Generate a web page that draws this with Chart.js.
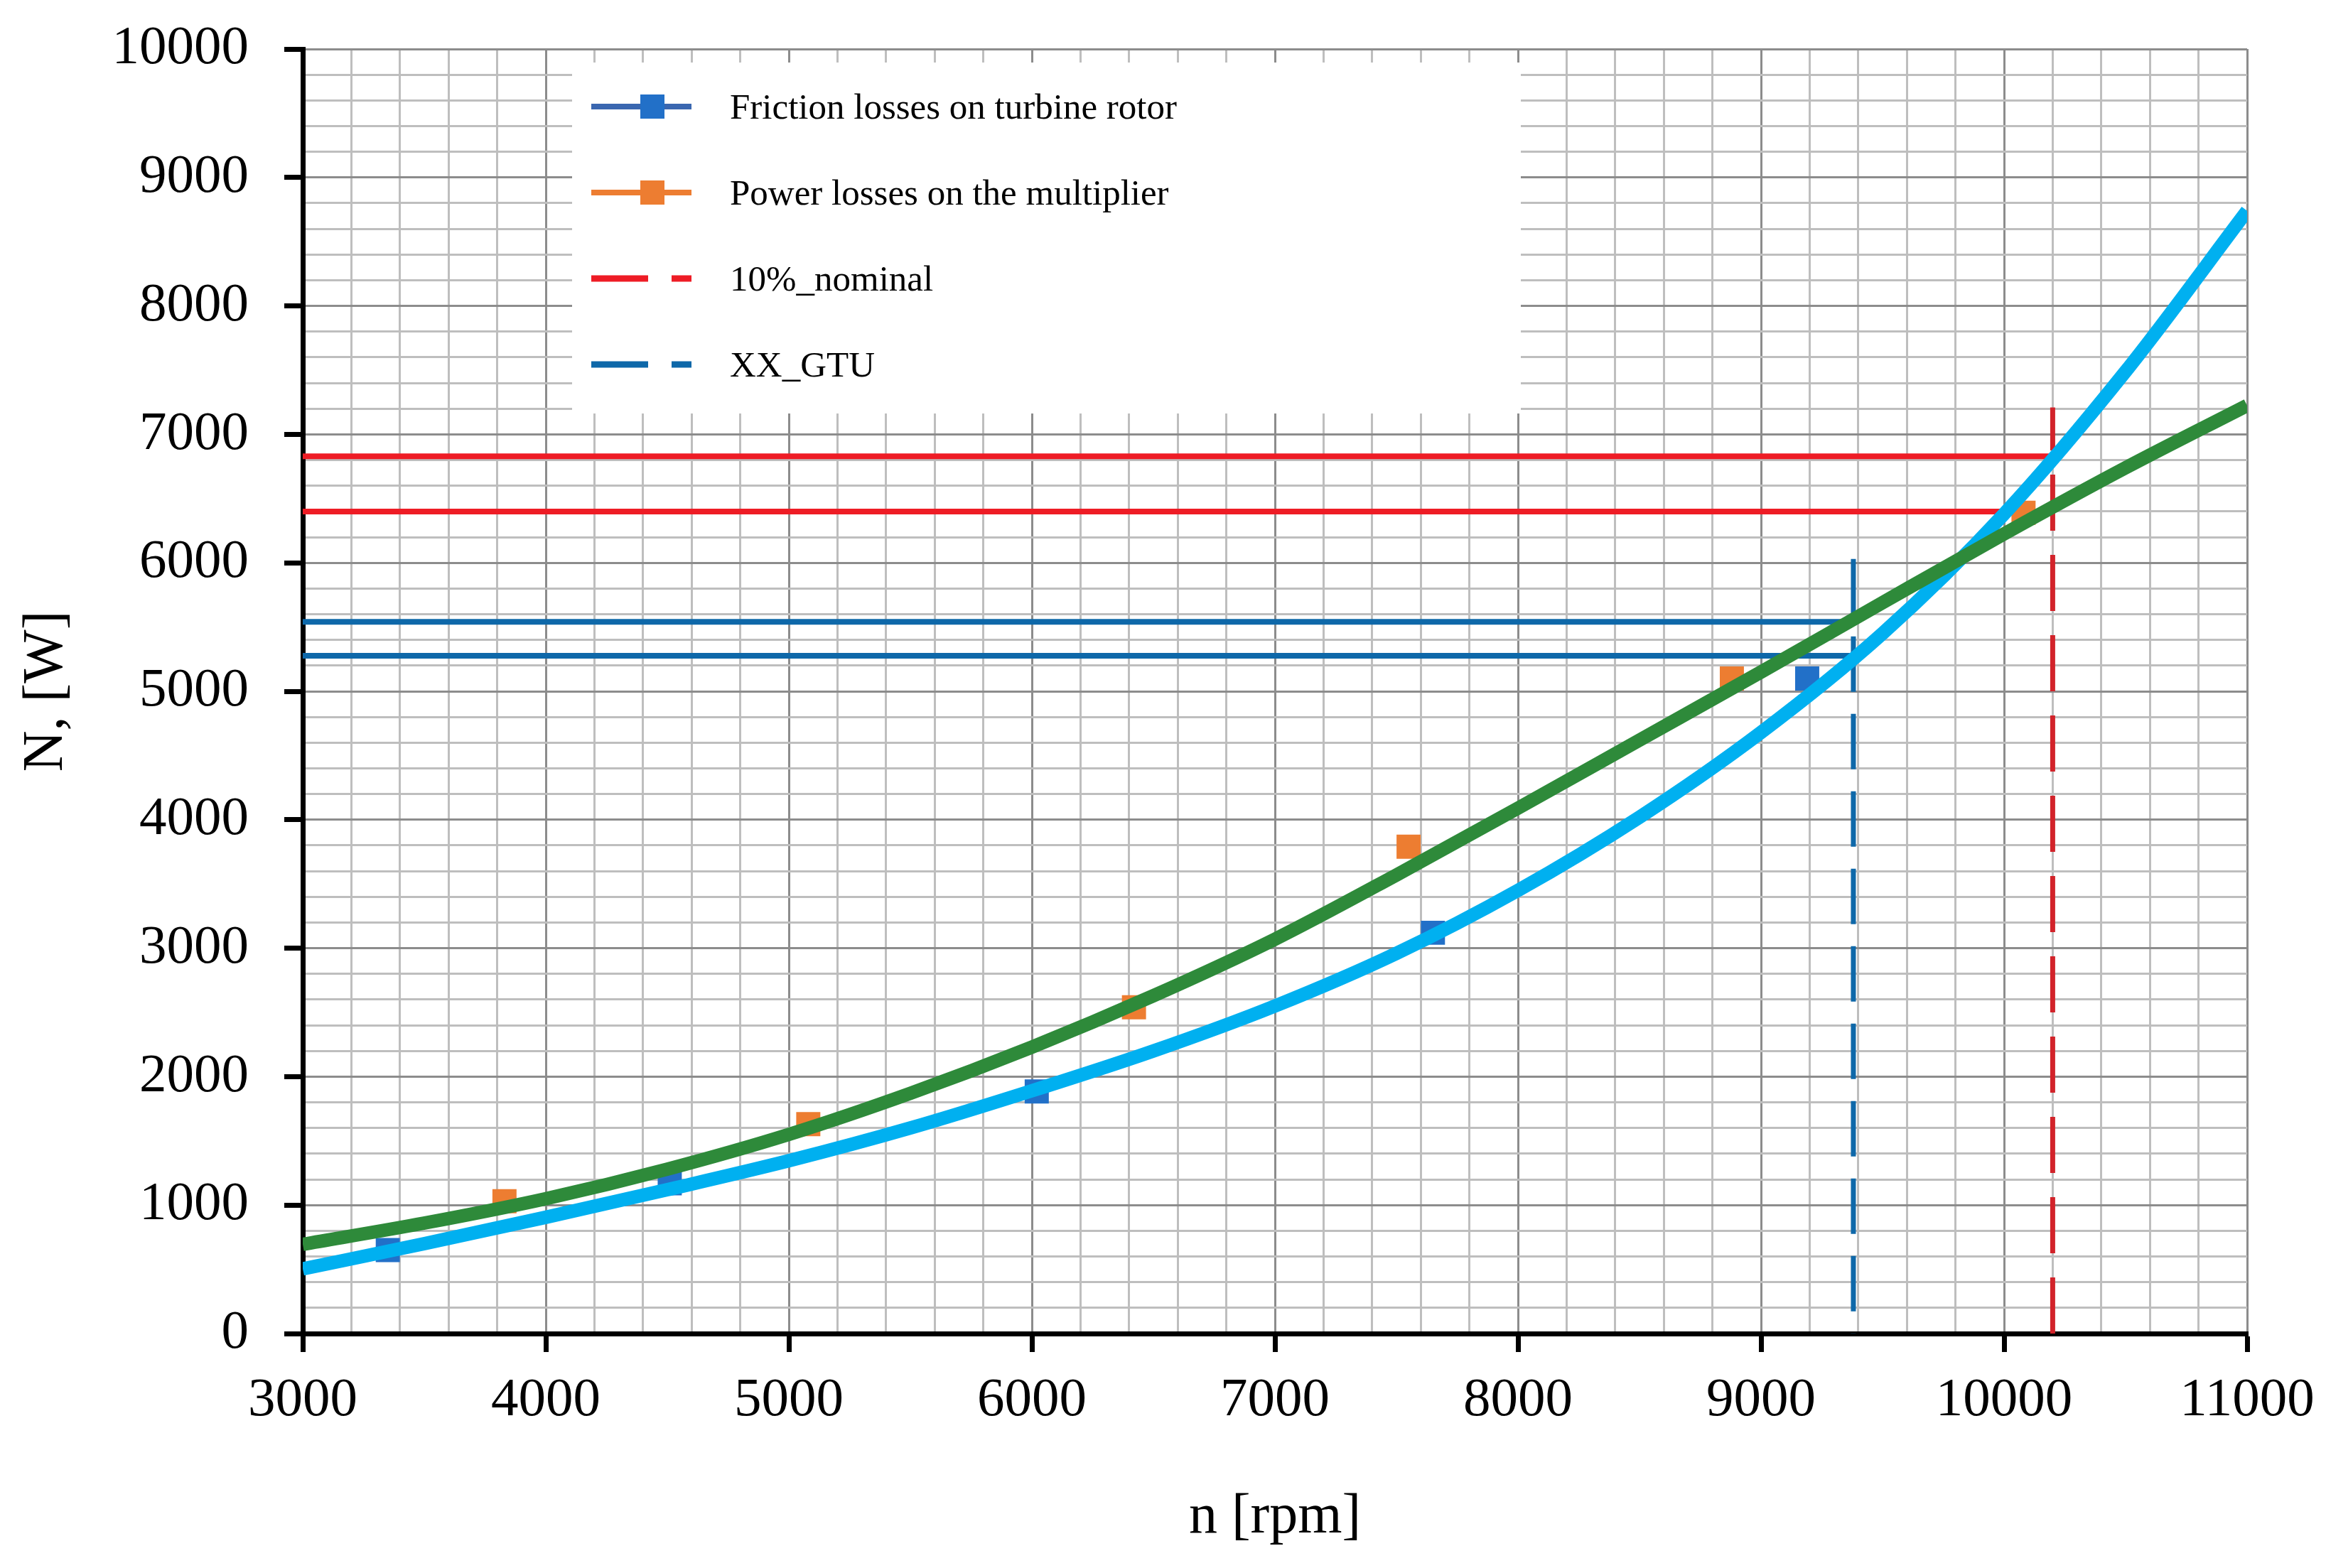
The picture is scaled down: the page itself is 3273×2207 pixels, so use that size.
<!DOCTYPE html>
<html>
<head>
<meta charset="utf-8">
<script src="https://cdn.jsdelivr.net/npm/chart.js@4.4.1/dist/chart.umd.min.js"></script>
<style>
html,body{margin:0;padding:0;background:#ffffff;}
#wrap{width:3273px;height:2207px;position:relative;}
</style>
</head>
<body>
<div id="wrap"><canvas id="c" width="3273" height="2207"></canvas></div>
<script>
// ---- data ----
const trendRpm = [3000, 3500, 4000, 4500, 5000, 5500, 6000, 6500, 7000, 7500, 8000, 8500, 9000, 9500, 10000, 10500, 11000];
const frictionTrendN = [503, 700, 905, 1120, 1345, 1600, 1890, 2200, 2550, 2960, 3450, 4020, 4680, 5450, 6380, 7490, 8740];
const multiplierTrendN = [695, 860, 1050, 1280, 1550, 1870, 2230, 2630, 3070, 3570, 4090, 4620, 5150, 5690, 6225, 6740, 7225];

const frictionRpm = [3350, 4510, 6020, 7650, 9190];
const frictionN = [650, 1170, 1885, 3120, 5100];
const multiplierRpm = [3830, 5080, 6420, 7550, 8880, 10080];
const multiplierN = [1030, 1630, 2540, 3790, 5100, 6390];

const startRpm = 3000;
const nominalRpm = 10200;
const nominalLevels = [6830, 6400];
const nominalTop = 7210;
const gtuRpm = 9380;
const gtuLevels = [5541, 5276];
const gtuTop = 6030;

const legendLabels = ['Friction losses on turbine rotor', 'Power losses on the multiplier', '10%_nominal', 'XX_GTU'];
const xTitle = 'n [rpm]';
const yTitle = 'N, [W]';

// ---- helpers ----
const pts = (xs, ys) => xs.map((x, i) => ({x: x, y: ys[i]}));
const RED = '#EE1C25', RED_DASH = '#D2232A', BLUE_REF = '#0E68A9';
const CYAN = '#00B0F0', GREEN = '#2E8A3A';
const FR_LINE = '#3A67B0', FR_MARK = '#2270C8', OR = '#ED7D31';
const SERIF = '"Liberation Serif", "DejaVu Serif", serif';

const datasets = [];
// trend lines (on top)
datasets.push({label: 'multTrend', data: pts(trendRpm, multiplierTrendN), borderColor: GREEN, borderWidth: 19,
  pointRadius: 0, cubicInterpolationMode: 'monotone', order: 0});
datasets.push({label: 'fricTrend', data: pts(trendRpm, frictionTrendN), borderColor: CYAN, borderWidth: 19,
  pointRadius: 0, cubicInterpolationMode: 'monotone', order: 1});
// measured series (their lines are hidden under the trend lines in the picture)
datasets.push({label: legendLabels[0], data: pts(frictionRpm, frictionN), borderColor: FR_LINE, borderWidth: 6,
  showLine: false, pointStyle: 'rect', pointRadius: 24, pointBackgroundColor: FR_MARK, pointBorderWidth: 0, order: 2});
datasets.push({label: legendLabels[1], data: pts(multiplierRpm, multiplierN), borderColor: OR, borderWidth: 6,
  showLine: false, pointStyle: 'rect', pointRadius: 24, pointBackgroundColor: OR, pointBorderWidth: 0, order: 3});
// reference lines
nominalLevels.forEach(v => datasets.push({label: legendLabels[2], data: [{x: startRpm, y: v}, {x: nominalRpm, y: v}],
  borderColor: RED, borderWidth: 8, pointRadius: 0, order: 4}));
gtuLevels.forEach(v => datasets.push({label: legendLabels[3], data: [{x: startRpm, y: v}, {x: gtuRpm, y: v}],
  borderColor: BLUE_REF, borderWidth: 8, pointRadius: 0, order: 4}));
datasets.push({label: legendLabels[2], data: [{x: nominalRpm, y: 0}, {x: nominalRpm, y: nominalTop}],
  borderColor: RED_DASH, borderWidth: 7, borderDash: [79, 34], pointRadius: 0, order: 5});
datasets.push({label: legendLabels[3], data: [{x: gtuRpm, y: gtuTop}, {x: gtuRpm, y: 0}],
  borderColor: BLUE_REF, borderWidth: 7, borderDash: [78, 31], pointRadius: 0, order: 5});

const legendItems = [
  {text: legendLabels[0], color: FR_LINE, marker: FR_MARK, width: 8},
  {text: legendLabels[1], color: OR, marker: OR, width: 8},
  {text: legendLabels[2], color: RED, dash: [80, 33], width: 9},
  {text: legendLabels[3], color: BLUE_REF, dash: [80, 33], width: 9}
];

const boxLegend = {
  id: 'boxLegend',
  beforeDatasetsDraw(chart) {
    const ctx = chart.ctx, a = chart.chartArea;
    ctx.save();
    ctx.fillStyle = '#ffffff';
    ctx.fillRect(a.left + 379, a.top + 19, 1335, 494);
    legendItems.forEach((it, i) => {
      const y = a.top + 81 + i * 121;
      ctx.strokeStyle = it.color;
      ctx.lineWidth = it.width;
      ctx.setLineDash(it.dash || []);
      ctx.lineCap = 'butt';
      ctx.beginPath();
      ctx.moveTo(a.left + 406, y);
      ctx.lineTo(a.left + 547, y);
      ctx.stroke();
      ctx.setLineDash([]);
      if (it.marker) {
        ctx.fillStyle = it.marker;
        ctx.fillRect(a.left + 475, y - 17, 34, 34);
      }
      ctx.fillStyle = '#000000';
      ctx.font = '51px ' + SERIF;
      ctx.textAlign = 'left';
      ctx.textBaseline = 'middle';
      ctx.fillText(it.text, a.left + 601, y + 4);
    });
    ctx.restore();
  }
};

const isMajor = c => c.tick && Math.round(c.tick.value) % 1000 === 0;
const gridCfg = {
  color: c => isMajor(c) ? '#8C8C8C' : '#BEBEBE',
  lineWidth: 3,
  drawTicks: true,
  tickLength: 26,
  tickColor: c => isMajor(c) ? '#000000' : 'rgba(0,0,0,0)',
  tickWidth: 7
};
const tickCb = v => (Math.round(v) % 1000 === 0 ? String(Math.round(v)) : '');
const noPad = s => { s.paddingTop = 0; s.paddingBottom = 0; s.paddingLeft = 0; s.paddingRight = 0; };

new Chart(document.getElementById('c'), {
  type: 'line',
  data: {datasets: datasets},
  plugins: [boxLegend],
  options: {
    responsive: false,
    devicePixelRatio: 1,
    animation: false,
    layout: {padding: {left: 0, right: 111, top: 69, bottom: 0}},
    plugins: {legend: {display: false}, tooltip: {enabled: false}},
    elements: {line: {tension: 0, borderCapStyle: 'butt'}},
    scales: {
      x: {
        type: 'linear', min: 3000, max: 11000,
        ticks: {stepSize: 200, autoSkip: false, maxRotation: 0, minRotation: 0, padding: 23,
          color: '#000', font: {family: SERIF, size: 77}, callback: tickCb},
        grid: gridCfg,
        border: {display: true, color: '#000000', width: 7},
        title: {display: true, text: xTitle, color: '#000', font: {family: SERIF, size: 80}, padding: {top: 0, bottom: 23}},
        afterFit: s => { s.height = 330; noPad(s); }
      },
      y: {
        type: 'linear', min: 0, max: 10000,
        ticks: {stepSize: 200, autoSkip: false, padding: 50,
          color: '#000', font: {family: SERIF, size: 77}, callback: tickCb},
        grid: gridCfg,
        border: {display: true, color: '#000000', width: 7},
        title: {display: true, text: yTitle, color: '#000', font: {family: SERIF, size: 80}, padding: {top: 18, bottom: 0}},
        afterFit: s => { s.width = 426; noPad(s); }
      }
    }
  }
});
</script>
</body>
</html>
